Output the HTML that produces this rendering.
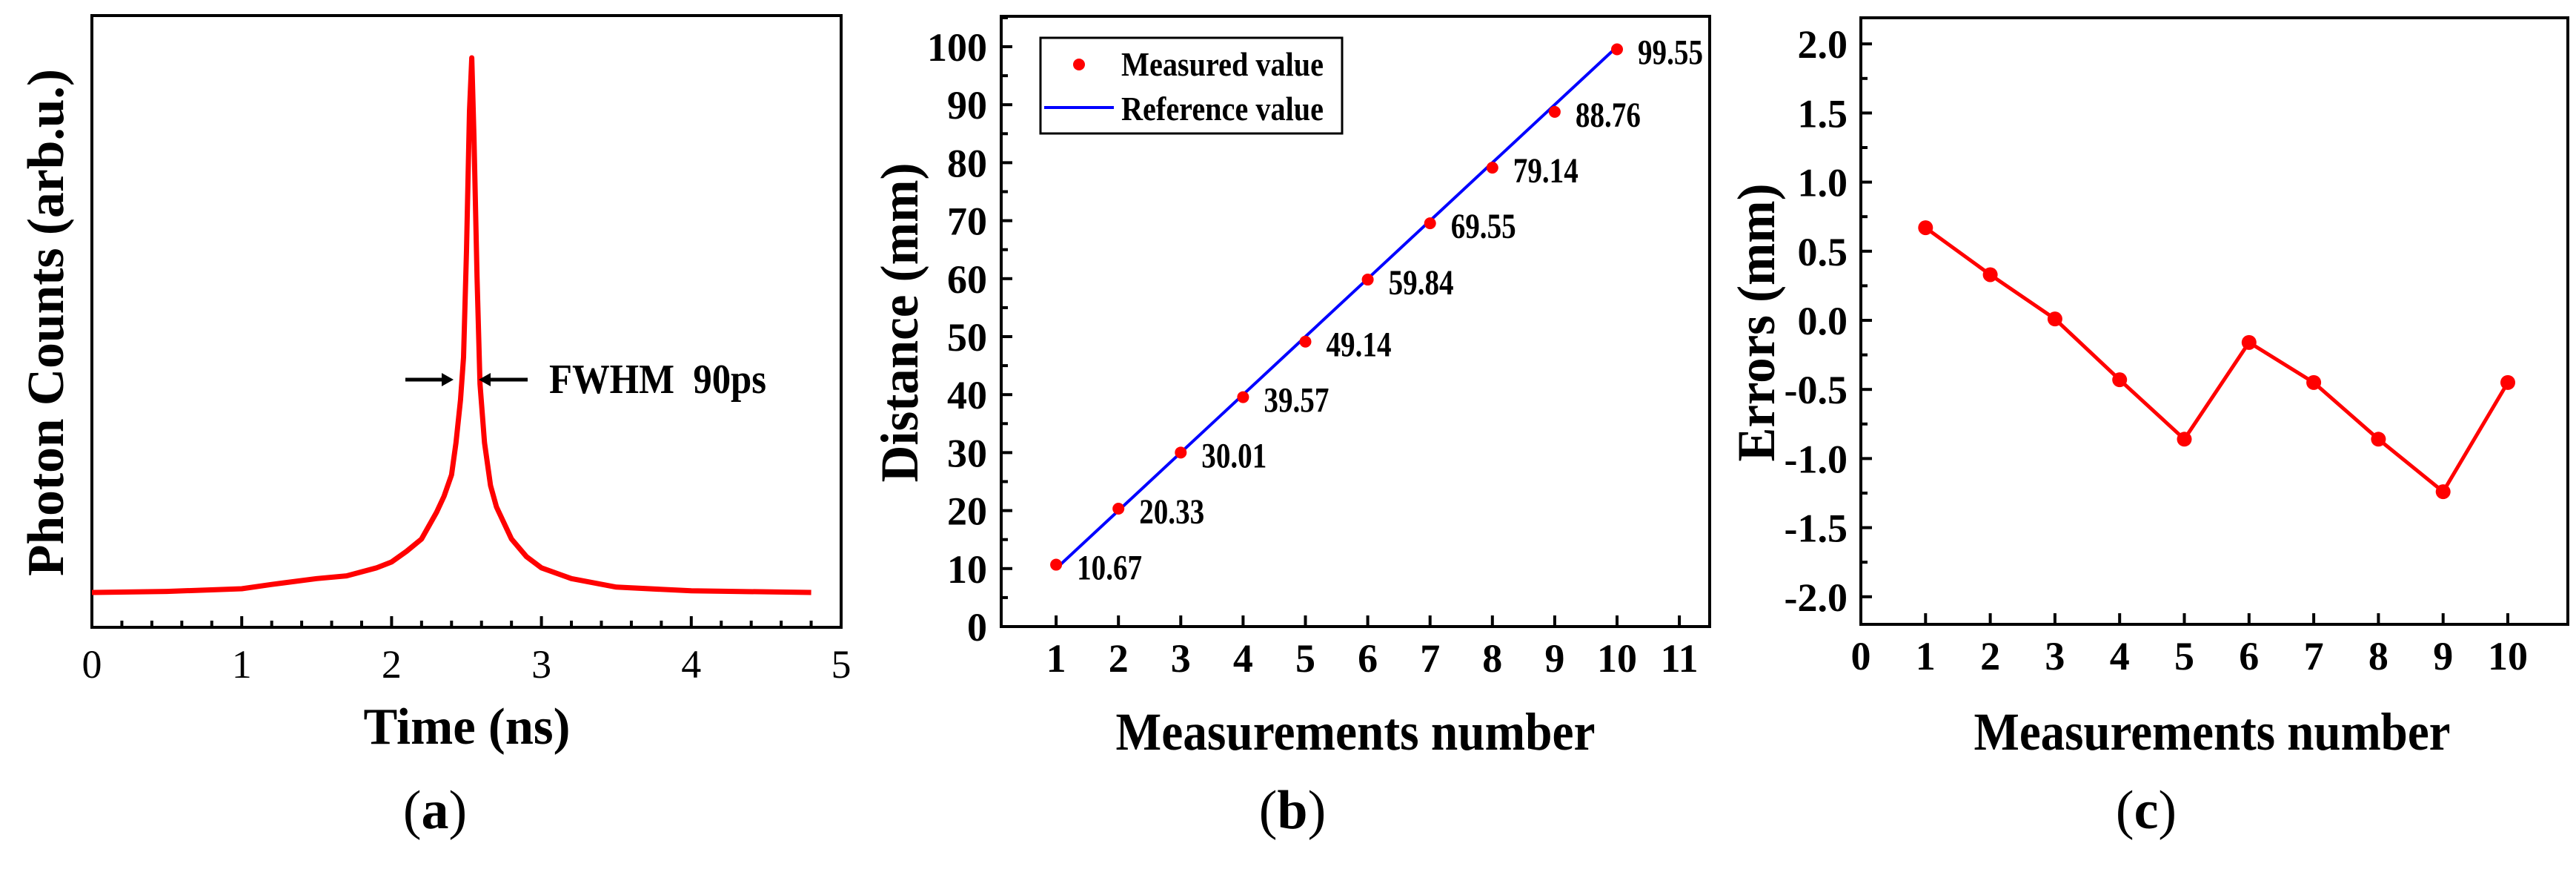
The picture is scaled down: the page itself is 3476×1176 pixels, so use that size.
<!DOCTYPE html>
<html><head><meta charset="utf-8"><style>
html,body{margin:0;padding:0;background:#fff;}
svg{display:block;}
text{font-family:"Liberation Serif",serif;font-weight:bold;fill:#000;}
</style></head><body>
<svg id="fig" width="3476" height="1176" viewBox="0 0 3476 1176" xmlns="http://www.w3.org/2000/svg"></svg>
<script>
// ---- Panel (a) data ----
const timeNs = [0,0.5,1,1.2,1.5,1.7,1.9,2.0,2.1,2.2,2.3,2.35,2.4,2.43,2.46,2.48,2.5,2.52,2.535,2.55,2.57,2.59,2.62,2.66,2.7,2.8,2.9,3.0,3.2,3.5,4.0,4.8];
const photonCounts = [0,0.002,0.007,0.015,0.026,0.031,0.046,0.057,0.077,0.10,0.15,0.18,0.22,0.28,0.36,0.44,0.64,0.90,1.0,0.85,0.59,0.39,0.28,0.20,0.16,0.10,0.067,0.046,0.026,0.010,0.003,0.0];
const aTicks = ["0","1","2","3","4","5"];
// ---- Panel (b) data ----
const measNumbers = [1,2,3,4,5,6,7,8,9,10];
const measuredValues = [10.67,20.33,30.01,39.57,49.14,59.84,69.55,79.14,88.76,99.55];
const referenceValues = [10,20,30,40,50,60,70,80,90,100];
const measuredLabels = ["10.67","20.33","30.01","39.57","49.14","59.84","69.55","79.14","88.76","99.55"];
const bYTicks = ["0","10","20","30","40","50","60","70","80","90","100"];
const bXTicks = ["1","2","3","4","5","6","7","8","9","10","11"];
// ---- Panel (c) data ----
const errorValues = [0.67,0.33,0.01,-0.43,-0.86,-0.16,-0.45,-0.86,-1.24,-0.45];
const cYTicks = ["-2.0","-1.5","-1.0","-0.5","0.0","0.5","1.0","1.5","2.0"];
const cXTicks = ["0","1","2","3","4","5","6","7","8","9","10"];

const NS="http://www.w3.org/2000/svg";
const svg=document.getElementById('fig');
function mk(tag,attrs,parent){const e=document.createElementNS(NS,tag);for(const k in attrs)e.setAttribute(k,attrs[k]);(parent||svg).appendChild(e);return e;}
function txt(s,attrs,parent){const e=mk('text',attrs,parent);e.textContent=s;return e;}
function panelLabel(letter,x,parent){
  const e=mk('text',{x:x,y:1117,'text-anchor':'middle','font-size':74,style:'font-weight:normal'},parent);
  const a=mk('tspan',{},e);a.textContent='(';
  const b=mk('tspan',{style:'font-weight:bold'},e);b.textContent=letter;
  const c=mk('tspan',{},e);c.textContent=')';
  return e;
}

// ================= Panel A =================
const gA=mk('g',{});


const aL=124,aR=1135,aT=21,aB=846;
const axA=t=>aL+(t-0)*(aR-aL)/5;
const ayA=v=>799-v*721;
let f=mk('rect',{x:aL,y:aT,width:aR-aL,height:aB-aT,fill:'none',stroke:'#000','stroke-width':4},gA);


for(let i=0;i<=25;i++){const t=i*0.2;const x=axA(t);const major=(i%5===0);
  mk('line',{x1:x,x2:x,y1:aB,y2:aB-(major?15:9),stroke:'#000','stroke-width':4},gA);}
aTicks.forEach((s,i)=>{const e=txt(s,{x:axA(i),y:914,'text-anchor':'middle','font-size':54,style:'font-weight:normal'},gA);
  
  });
let pts=timeNs.map((t,i)=>axA(t).toFixed(1)+','+ayA(photonCounts[i]).toFixed(1)).join(' ');
let cur=mk('polyline',{points:pts,fill:'none',stroke:'#ff0000','stroke-width':7,'stroke-linejoin':'round'},gA);


const arr=mk('g',{},gA);


mk('line',{x1:547,x2:600,y1:512,y2:512,stroke:'#000','stroke-width':5},arr);
mk('polygon',{points:'612,512 596,503 596,521',fill:'#000'},arr);
mk('line',{x1:660,x2:712,y1:512,y2:512,stroke:'#000','stroke-width':5},arr);
mk('polygon',{points:'646,512 662,503 662,521',fill:'#000'},arr);
let fw=txt('FWHM\u00a0\u00a090ps',{x:741,y:530,'font-size':56,textLength:293,lengthAdjust:'spacingAndGlyphs'},gA);


let xt=txt('Time (ns)',{x:630,y:1003,'text-anchor':'middle','font-size':70,textLength:279,lengthAdjust:'spacingAndGlyphs'},gA);


let yt=txt('Photon Counts (arb.u.)',{x:0,y:0,'text-anchor':'middle','font-size':70,textLength:684,lengthAdjust:'spacingAndGlyphs',transform:'translate(85,435) rotate(-90)'},gA);


let pa=panelLabel('a',587,gA);



// ================= Panel B =================
const gB=mk('g',{});


const bL=1351,bR=2307,bT=22,bB=845;
const axB=n=>1341+n*84.1;
const ayB=v=>bB-v*7.82;
f=mk('rect',{x:bL,y:bT,width:bR-bL,height:bB-bT,fill:'none',stroke:'#000','stroke-width':4},gB);


for(let v=0;v<=105;v+=5){const y=ayB(v);const major=v%10===0;
  mk('line',{x1:bL,x2:bL+(major?15:9),y1:y,y2:y,stroke:'#000','stroke-width':4},gB);}
bYTicks.forEach((s,i)=>{const e=txt(s,{x:1332,y:ayB(i*10)+19,'text-anchor':'end','font-size':54},gB);
  
  });
bXTicks.forEach((s,i)=>{const x=axB(i+1);
  mk('line',{x1:x,x2:x,y1:bB,y2:bB-15,stroke:'#000','stroke-width':4},gB);
  const e=txt(s,{x:x,y:906,'text-anchor':'middle','font-size':54},gB);
  
  });
const refPts=measNumbers.map((n,i)=>axB(n).toFixed(1)+','+ayB(referenceValues[i]).toFixed(1)).join(' ');
let rl=mk('polyline',{points:refPts,fill:'none',stroke:'#0000ff','stroke-width':4},gB);


measNumbers.forEach((n,i)=>{
  const c=mk('circle',{cx:axB(n),cy:ayB(measuredValues[i]),r:8,fill:'#ff0000'},gB);
  
  
  const t=txt(measuredLabels[i],{x:axB(n)+28,y:ayB(measuredValues[i])+20,'font-size':48,textLength:88,lengthAdjust:'spacingAndGlyphs'},gB);
  
  
});
const lg=mk('g',{},gB);


mk('rect',{x:1404,y:51,width:407,height:129,fill:'#fff',stroke:'#000','stroke-width':3},lg);
let le=mk('circle',{cx:1456,cy:87,r:8,fill:'#ff0000'},lg);


txt('Measured value',{x:1513,y:102,'font-size':46,textLength:273,lengthAdjust:'spacingAndGlyphs'},lg);
le=mk('line',{x1:1409,x2:1503,y1:145,y2:145,stroke:'#0000ff','stroke-width':4},lg);


txt('Reference value',{x:1513,y:162,'font-size':46,textLength:273,lengthAdjust:'spacingAndGlyphs'},lg);
xt=txt('Measurements number',{x:1829,y:1011,'text-anchor':'middle','font-size':72,textLength:647,lengthAdjust:'spacingAndGlyphs'},gB);


yt=txt('Distance (mm)',{x:0,y:0,'text-anchor':'middle','font-size':72,textLength:431,lengthAdjust:'spacingAndGlyphs',transform:'translate(1238,435) rotate(-90)'},gB);


pa=panelLabel('b',1744,gB);



// ================= Panel C =================
const gC=mk('g',{});


const cL=2511,cR=3465,cT=24,cB=842;
const axC=n=>cL+n*87.3;
const ayC=v=>432-v*186.4;
f=mk('rect',{x:cL,y:cT,width:cR-cL,height:cB-cT,fill:'none',stroke:'#000','stroke-width':4},gC);


for(let k=-8;k<=8;k++){const v=k*0.25;const y=ayC(v);const major=(k%2===0);
  mk('line',{x1:cL,x2:cL+(major?15:9),y1:y,y2:y,stroke:'#000','stroke-width':4},gC);}
cYTicks.forEach((s,i)=>{const e=txt(s,{x:2493,y:ayC(-2+i*0.5)+19,'text-anchor':'end','font-size':54},gC);
  
  });
cXTicks.forEach((s,i)=>{const x=axC(i);
  if(i>0) mk('line',{x1:x,x2:x,y1:cB,y2:cB-15,stroke:'#000','stroke-width':4},gC);
  const e=txt(s,{x:x,y:903,'text-anchor':'middle','font-size':54},gC);
  
  });
const errPts=measNumbers.map((n,i)=>axC(n).toFixed(1)+','+ayC(errorValues[i]).toFixed(1)).join(' ');
let el=mk('polyline',{points:errPts,fill:'none',stroke:'#ff0000','stroke-width':5},gC);


measNumbers.forEach((n,i)=>{
  const c=mk('circle',{cx:axC(n),cy:ayC(errorValues[i]),r:10,fill:'#ff0000'},gC);
  
  
});
xt=txt('Measurements number',{x:2985,y:1011,'text-anchor':'middle','font-size':72,textLength:643,lengthAdjust:'spacingAndGlyphs'},gC);


yt=txt('Errors (mm)',{x:0,y:0,'text-anchor':'middle','font-size':72,textLength:375,lengthAdjust:'spacingAndGlyphs',transform:'translate(2394,435) rotate(-90)'},gC);


pa=panelLabel('c',2896,gC);


</script>
</body></html>
